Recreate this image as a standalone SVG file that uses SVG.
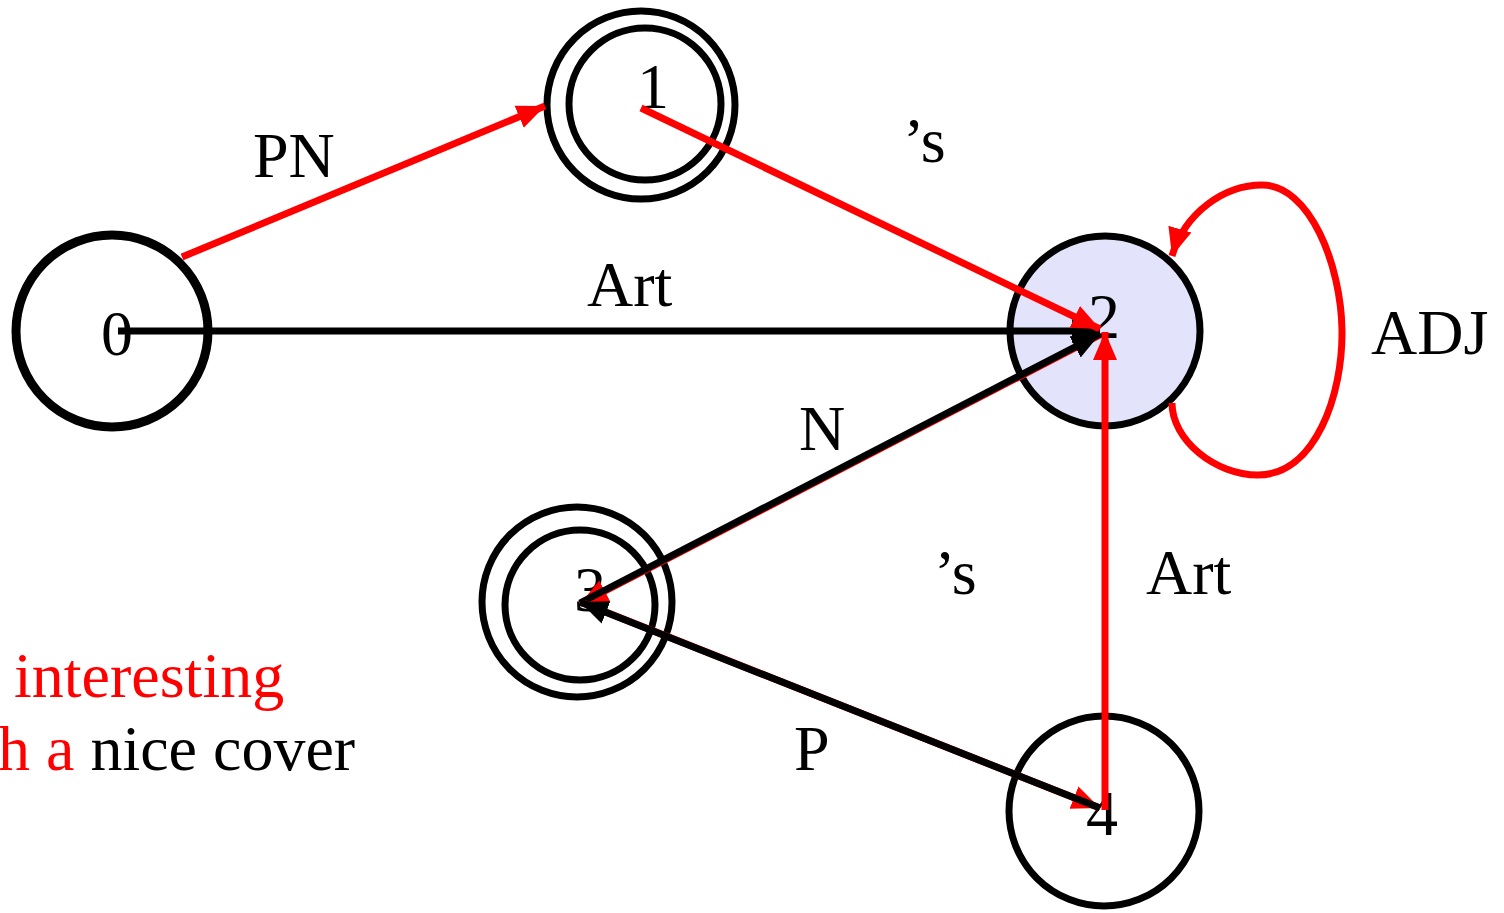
<svg xmlns="http://www.w3.org/2000/svg" width="1504" height="913" viewBox="0 0 1504 913">
<style>
text{font-family:"Liberation Serif","Times New Roman",serif;font-size:64px;}
.st{fill:none;stroke:#000;stroke-width:7;}
.lbl{text-anchor:middle;fill:#000;}
.r{stroke:#ff0000;stroke-width:7;fill:none;}
.k{stroke:#000;stroke-width:7;fill:none;}
</style>
<defs>
<marker id="ar" markerUnits="userSpaceOnUse" markerWidth="34" markerHeight="34" viewBox="0 0 34 34" refX="28" refY="17" orient="auto"><path d="M0,5 L28,17 L0,29 Z" fill="#ff0000"/></marker>
<marker id="ak" markerUnits="userSpaceOnUse" markerWidth="34" markerHeight="34" viewBox="0 0 34 34" refX="28" refY="17" orient="auto"><path d="M0,5 L28,17 L0,29 Z" fill="#000"/></marker>
</defs>
<rect width="1504" height="913" fill="#fff"/>
<g id="node0">
<circle cx="112" cy="331" r="96" fill="#fff" stroke="#000" stroke-width="9"/>
<text class="lbl" x="117" y="355">0</text>
</g>
<g id="node1">
<circle class="st" cx="641" cy="105" r="94"/>
<circle class="st" cx="645" cy="104" r="76"/>
<text class="lbl" x="653" y="108">1</text>
</g>
<g id="node2">
<circle cx="1105" cy="331" r="95" fill="#e3e3fb" stroke="#000" stroke-width="7"/>
<text class="lbl" x="1104" y="338">2</text>
</g>
<g id="node3">
<circle class="st" cx="577" cy="602" r="95"/>
<circle class="st" cx="580" cy="605" r="75"/>
<text class="lbl" x="590" y="611">3</text>
</g>
<g id="node4">
<circle class="st" cx="1104" cy="811" r="95"/>
<text class="lbl" x="1102" y="835">4</text>
</g>
<g id="connectors">
<line class="r" x1="182" y1="257" x2="545" y2="106" marker-end="url(#ar)"/>
<line class="k" x1="118" y1="331" x2="1100" y2="331" marker-end="url(#ak)"/>
<line class="r" x1="641" y1="108" x2="1100" y2="329" marker-end="url(#ar)"/>
<line class="r" x1="1100" y1="335" x2="580" y2="604" marker-end="url(#ar)"/>
<line class="k" x1="580" y1="603" x2="1100" y2="334" marker-end="url(#ak)"/>
<line class="r" x1="583" y1="603" x2="1100" y2="808" marker-end="url(#ar)"/>
<line class="k" x1="1100" y1="808" x2="580" y2="602" marker-end="url(#ak)"/>
<line class="r" x1="1105" y1="810" x2="1105" y2="332" marker-end="url(#ar)"/>
<path class="r" d="M1172,403 C1172,440 1215,475 1258,475 C1315,475 1343,395 1342,330 C1341,265 1310,185 1262,185 C1225,185 1185,212 1172,256" marker-end="url(#ar)"/>
</g>
<g id="labels">
<text x="253" y="177">PN</text>
<text x="903" y="162">’s</text>
<text x="587" y="306">Art</text>
<text x="1371" y="354">ADJ</text>
<text x="799" y="450">N</text>
<text x="934" y="594">’s</text>
<text x="1146" y="594">Art</text>
<text x="794" y="770">P</text>
</g>
<g id="sentence">
<text x="14" y="697" fill="#ff0000">interesting</text>
<text x="-2" y="770"><tspan fill="#ff0000">h a</tspan><tspan fill="#000"> nice cover</tspan></text>
</g>
</svg>
